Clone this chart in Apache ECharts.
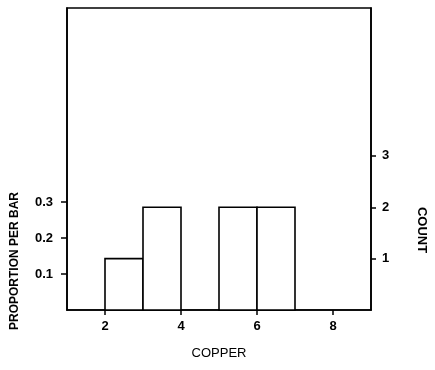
<!DOCTYPE html>
<html>
<head>
    <meta charset="utf-8">
    <script src="https://cdn.jsdelivr.net/npm/echarts@6/dist/echarts.min.js"></script>
    <title>COPPER</title>
    <style>
        html, body { margin: 0; padding: 0; background: #fff; }
        #main { width: 435px; height: 370px; }
    </style>
</head>
<body>
<div id="main"></div>
<script>
    // histogram bins (COPPER) and counts
    var binStart = [2, 3, 5, 6];
    var binEnd = [3, 4, 6, 7];
    var counts = [1, 2, 2, 2];
    var xTicks = [2, 4, 6, 8];
    var propTicks = [0.1, 0.2, 0.3];
    var countTicks = [1, 2, 3];

    var total = 0;
    for (var i = 0; i < counts.length; i++) total += counts[i];
    var countMax = 5.88;
    var propMax = countMax / total;

    var bars = [];
    for (var i = 0; i < counts.length; i++) {
        bars.push([binStart[i], binEnd[i], counts[i]]);
    }

    var font = 'Liberation Sans, Arial, sans-serif';
    var lbl = {color: '#000', fontFamily: font, fontSize: 13, fontWeight: 'bold'};

    var option = {
        animation: false,
        grid: {
            left: 67, right: 64, top: 8, bottom: 60,
            show: true, borderColor: '#000', borderWidth: 1.6, backgroundColor: '#fff'
        },
        xAxis: {
            type: 'value', min: 1, max: 9,
            axisLine: {lineStyle: {color: '#000', width: 1.6}},
            axisTick: {customValues: xTicks, length: 5, lineStyle: {color: '#000', width: 1.5}},
            axisLabel: Object.assign({customValues: xTicks, margin: 10}, lbl),
            splitLine: {show: false}
        },
        yAxis: [
            {
                type: 'value', min: 0, max: propMax, position: 'left',
                axisLine: {show: true, lineStyle: {color: '#000', width: 1.6}},
                axisTick: {show: true, customValues: propTicks, length: 6, lineStyle: {color: '#000', width: 1.5}},
                axisLabel: Object.assign({customValues: propTicks, margin: 14}, lbl),
                splitLine: {show: false}
            },
            {
                type: 'value', min: 0, max: countMax, position: 'right',
                axisLine: {show: true, lineStyle: {color: '#000', width: 1.6}},
                axisTick: {show: true, customValues: countTicks, length: 5, lineStyle: {color: '#000', width: 1.5}},
                axisLabel: Object.assign({customValues: countTicks, margin: 11}, lbl),
                splitLine: {show: false}
            }
        ],
        series: [{
            type: 'custom',
            yAxisIndex: 1,
            data: bars,
            renderItem: function (params, api) {
                var p0 = api.coord([api.value(0), api.value(2)]);
                var p1 = api.coord([api.value(1), 0]);
                return {
                    type: 'rect',
                    shape: {x: p0[0], y: p0[1], width: p1[0] - p0[0], height: p1[1] - p0[1]},
                    style: {fill: '#fff', stroke: '#000', lineWidth: 1.6}
                };
            }
        }],
        graphic: [
            {
                type: 'text', x: 15, y: 261, rotation: Math.PI / 2,
                style: {text: 'PROPORTION PER BAR', fill: '#000', font: 'bold 12px ' + font, align: 'center', verticalAlign: 'middle'}
            },
            {
                type: 'text', x: 422, y: 230, rotation: -Math.PI / 2,
                style: {text: 'COUNT', fill: '#000', font: 'bold 13px ' + font, align: 'center', verticalAlign: 'middle'}
            },
            {
                type: 'text', x: 219, y: 353,
                style: {text: 'COPPER', fill: '#000', font: '13px ' + font, align: 'center', verticalAlign: 'middle'}
            }
        ]
    };

    var chart = echarts.init(document.getElementById('main'));
    chart.setOption(option);
</script>
</body>
</html>
